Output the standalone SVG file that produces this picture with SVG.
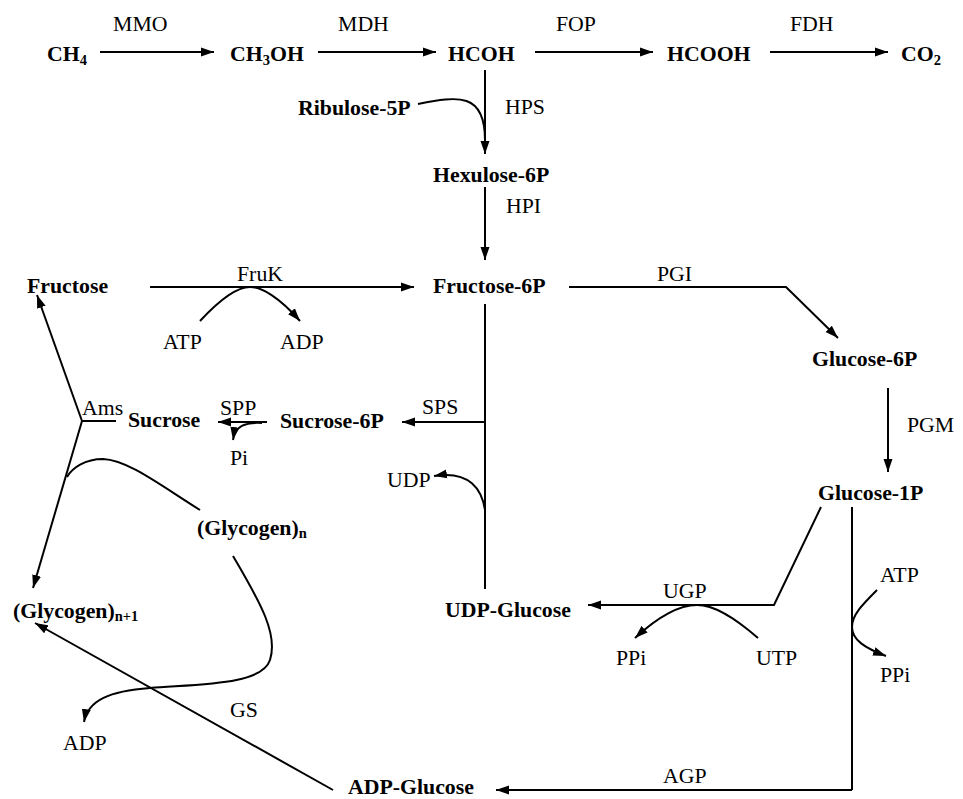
<svg xmlns="http://www.w3.org/2000/svg" width="963" height="799" viewBox="0 0 963 799" font-family="'Liberation Serif', 'DejaVu Serif', 'Noto Serif', serif">
<style>
text{font-family:'Liberation Serif','DejaVu Serif','Noto Serif',serif;font-size:21.8px;fill:#000}
.b{font-weight:bold}
.s{font-size:14.5px}
.c{fill:none;stroke:#000;stroke-width:2}
.a{marker-end:url(#ah)}
</style>
<defs>
<marker id="ah" markerUnits="userSpaceOnUse" markerWidth="14" markerHeight="10" refX="13" refY="5" orient="auto">
<path d="M0,0.5 L13,5 L0,9.5 z" fill="#000"/>
</marker>
</defs>
<rect width="963" height="799" fill="#fff"/>
<g id="connectors">
<path class="c a" d="M100,52 H214"/>
<path class="c a" d="M318,52 H436"/>
<path class="c a" d="M535,52 H653"/>
<path class="c a" d="M770,52 H888"/>
<path class="c a" d="M485,70 V154"/>
<path class="c" d="M418,104 C458,96 485,92 485,140"/>
<path class="c a" d="M485,187 V260"/>
<path class="c a" d="M150,287 H414"/>
<path class="c a" d="M200,321 C225,294 240,287 250,287 C262,287 280,298 300,321"/>
<path class="c a" d="M569,287 H786 L838,338"/>
<path class="c a" d="M888,388 V472"/>
<path class="c" d="M485,304 V589"/>
<path class="c a" d="M485,422 H402"/>
<path class="c a" d="M485,510 C482,490 470,470 434,476"/>
<path class="c a" d="M267,422 H218"/>
<path class="c a" d="M262,423 C245,422 235,426 233,440"/>
<path class="c" d="M82,421 H116"/>
<path class="c a" d="M82,421 L37,295"/>
<path class="c a" d="M82,421 L33,588"/>
<path class="c" d="M200,510 C160,485 128,460 103,459 C85,459 72,468 67,477"/>
<path class="c a" d="M233,556 C262,605 278,635 270,660 C262,685 200,684 150,688 C110,691 88,700 84,722"/>
<path class="c a" d="M333,790 L35,623"/>
<path class="c a" d="M821,507 L774,605 H588"/>
<path class="c a" d="M758,638 C735,618 715,605 697,605 C680,605 660,615 635,638"/>
<path class="c" d="M852,507 V790"/>
<path class="c a" d="M852,790 H496"/>
<path class="c a" d="M877,590 C862,605 852,615 852,627 C852,640 865,648 886,656"/>
</g>
<g id="n-ch4"><text class="b" x="47" y="61">CH<tspan class="s" dy="4">4</tspan></text></g>
<g id="n-ch3oh"><text class="b" x="230" y="61">CH<tspan class="s" dy="4">3</tspan><tspan dy="-4">OH</tspan></text></g>
<g id="n-hcoh"><text class="b" x="448" y="61">HCOH</text></g>
<g id="n-hcooh"><text class="b" x="667" y="61">HCOOH</text></g>
<g id="n-co2"><text class="b" x="901" y="61">CO<tspan class="s" dy="4">2</tspan></text></g>
<g id="l-mmo"><text x="113" y="31">MMO</text></g>
<g id="l-mdh"><text x="338" y="31">MDH</text></g>
<g id="l-fop"><text x="556" y="31">FOP</text></g>
<g id="l-fdh"><text x="790" y="31">FDH</text></g>
<g id="n-ribulose"><text class="b" x="298" y="115">Ribulose-5P</text></g>
<g id="l-hps"><text x="505" y="114">HPS</text></g>
<g id="n-hexulose"><text class="b" x="433" y="182">Hexulose-6P</text></g>
<g id="l-hpi"><text x="506" y="213">HPI</text></g>
<g id="n-fructose"><text class="b" x="27" y="293">Fructose</text></g>
<g id="l-fruk"><text x="237" y="281">FruK</text></g>
<g id="n-atp1"><text x="163" y="349">ATP</text></g>
<g id="n-adp1"><text x="280" y="349">ADP</text></g>
<g id="n-fructose6p"><text class="b" x="433" y="293">Fructose-6P</text></g>
<g id="l-pgi"><text x="657" y="281">PGI</text></g>
<g id="n-glucose6p"><text class="b" x="812" y="366">Glucose-6P</text></g>
<g id="l-pgm"><text x="907" y="432">PGM</text></g>
<g id="n-glucose1p"><text class="b" x="818" y="500">Glucose-1P</text></g>
<g id="n-sucrose6p"><text class="b" x="280" y="428">Sucrose-6P</text></g>
<g id="l-sps"><text x="422" y="414">SPS</text></g>
<g id="n-udp"><text x="387" y="487">UDP</text></g>
<g id="n-sucrose"><text class="b" x="128" y="427">Sucrose</text></g>
<g id="l-spp"><text x="220" y="415">SPP</text></g>
<g id="n-pi"><text x="230" y="465">Pi</text></g>
<g id="l-ams"><text x="82" y="415">Ams</text></g>
<g id="n-glycogen-n"><text class="b" x="197" y="535">(Glycogen)<tspan class="s" dy="3">n</tspan></text></g>
<g id="n-glycogen-n1"><text class="b" x="13" y="618">(Glycogen)<tspan class="s" dy="3">n+1</tspan></text></g>
<g id="n-adp2"><text x="63" y="750">ADP</text></g>
<g id="l-gs"><text x="230" y="717">GS</text></g>
<g id="n-adpglucose"><text class="b" x="348" y="794">ADP-Glucose</text></g>
<g id="l-agp"><text x="663" y="783">AGP</text></g>
<g id="n-udpglucose"><text class="b" x="445" y="617">UDP-Glucose</text></g>
<g id="l-ugp"><text x="663" y="598">UGP</text></g>
<g id="n-ppi1"><text x="616" y="665">PPi</text></g>
<g id="n-utp"><text x="756" y="665">UTP</text></g>
<g id="n-atp2"><text x="880" y="582">ATP</text></g>
<g id="n-ppi2"><text x="880" y="682">PPi</text></g>
</svg>
